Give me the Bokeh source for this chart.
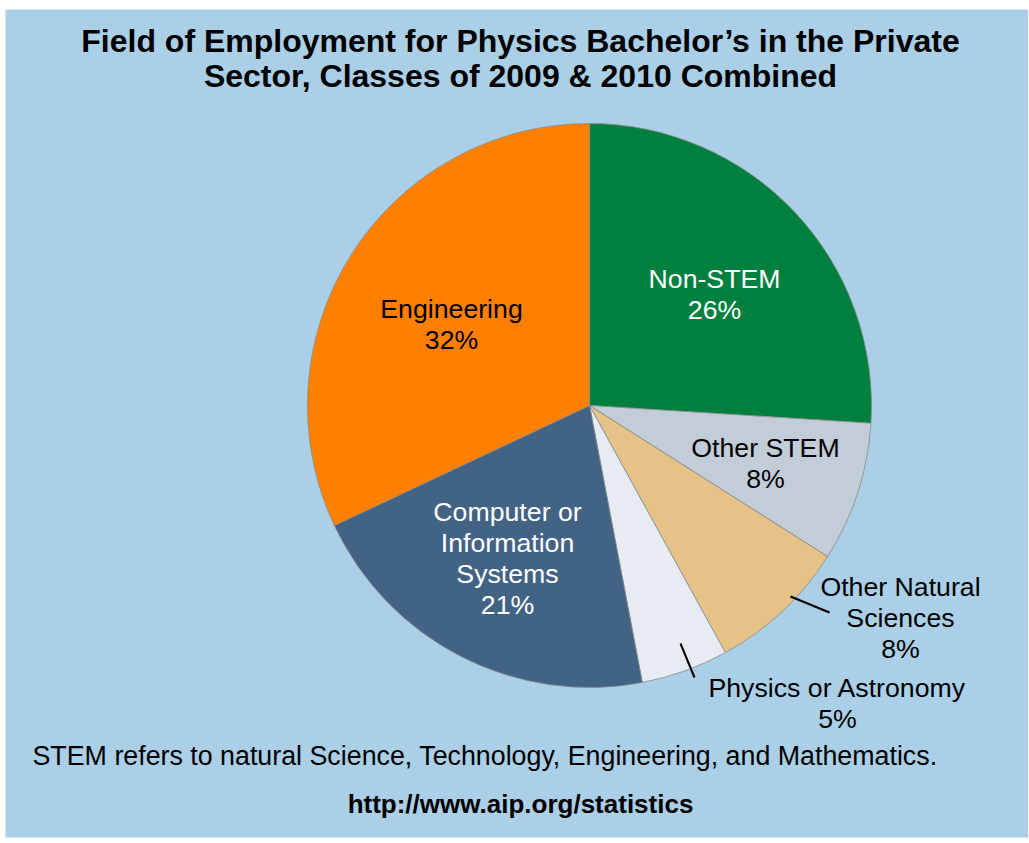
import numpy as np
from bokeh.plotting import figure
from bokeh.models import Range1d, ColumnDataSource
from bokeh.core.properties import value
from bokeh.embed import file_html
from bokeh.resources import INLINE

# ---------------- data ----------------
title_lines = ["Field of Employment for Physics Bachelor\u2019s in the Private",
               "Sector, Classes of 2009 & 2010 Combined"]
categories = ["Non-STEM", "Other STEM", "Other Natural\nSciences",
              "Physics or Astronomy", "Computer or\nInformation\nSystems", "Engineering"]
percents = [26, 8, 8, 5, 21, 32]
colors = ["#00803F", "#C3CDD8", "#E4C288", "#E6ECF2", "#426384", "#FF8000"]
label_colors = ["white", "black", "black", "black", "white", "black"]
footnote = "STEM refers to natural Science, Technology, Engineering, and Mathematics."
source_url = "http://www.aip.org/statistics"

# ---------------- layout ----------------
W, H = 1028, 842
LEFT, TOP, BOTTOM = 5, 9, 837
BG = "#AACFE6"
FONT = value("Liberation Sans")


def px(x):
    return x


def py(y):
    return -y


cx, cy, R = px(589), py(405), 282
# label block centres (page coordinates)
label_pos = [(714, 293.5), (765, 462.5), (900, 617), (837, 702.5), (507, 558), (451, 324)]
line_gap = 31
leaders = {2: ((790, 596), (829, 612)), 3: ((680, 643), (694, 677))}

p = figure(width=W, height=H, output_backend="svg", toolbar_location=None,
           x_range=Range1d(LEFT, W), y_range=Range1d(-BOTTOM, -TOP),
           min_border_left=LEFT, min_border_top=TOP, min_border_right=0,
           min_border_bottom=H - BOTTOM)
p.axis.visible = False
p.grid.visible = False
p.outline_line_color = None
p.background_fill_color = BG
p.border_fill_color = "white"

vals = np.array(percents, dtype=float)
frac = vals / vals.sum()
cum = np.concatenate([[0], np.cumsum(frac)])
starts = np.pi / 2 - 2 * np.pi * cum[:-1]
ends = np.pi / 2 - 2 * np.pi * cum[1:]

src = ColumnDataSource(dict(start=starts, end=ends, color=colors))
p.wedge(x=cx, y=cy, radius=R, start_angle="start", end_angle="end",
        direction="clock", fill_color="color", line_color="#8a8a8a",
        line_width=0.8, source=src)

# slice labels
tx, ty, tt, tc = [], [], [], []
for i, (cat, pct) in enumerate(zip(categories, percents)):
    lines = cat.split("\n") + [f"{pct}%"]
    x0, y0 = label_pos[i]
    n = len(lines)
    for k, ln in enumerate(lines):
        yy = y0 + (k - (n - 1) / 2) * line_gap
        tx.append(px(x0)); ty.append(py(yy)); tt.append(ln); tc.append(label_colors[i])
p.text(x=tx, y=ty, text=tt, text_color=tc, text_font=FONT, text_font_size="26.7px",
       text_align="center", text_baseline="middle")

# leader lines
for i, ((x0, y0), (x1, y1)) in leaders.items():
    p.segment(x0=[px(x0)], y0=[py(y0)], x1=[px(x1)], y1=[py(y1)],
              line_color="black", line_width=2)

# title
p.text(x=[px(520), px(520)], y=[py(40), py(75)], text=title_lines, text_font=FONT,
       text_font_size="32px", text_font_style="bold", text_color="black",
       text_align="center", text_baseline="middle")

# footnote and source
p.text(x=[px(32)], y=[py(755)], text=[footnote], text_font=FONT, text_font_size="26.8px",
       text_color="black", text_align="left", text_baseline="middle")
p.text(x=[px(520)], y=[py(803)], text=[source_url], text_font=FONT, text_font_size="26px",
       text_font_style="bold", text_color="black", text_align="center", text_baseline="middle")

open("out.html", "w").write(file_html(p, INLINE))
